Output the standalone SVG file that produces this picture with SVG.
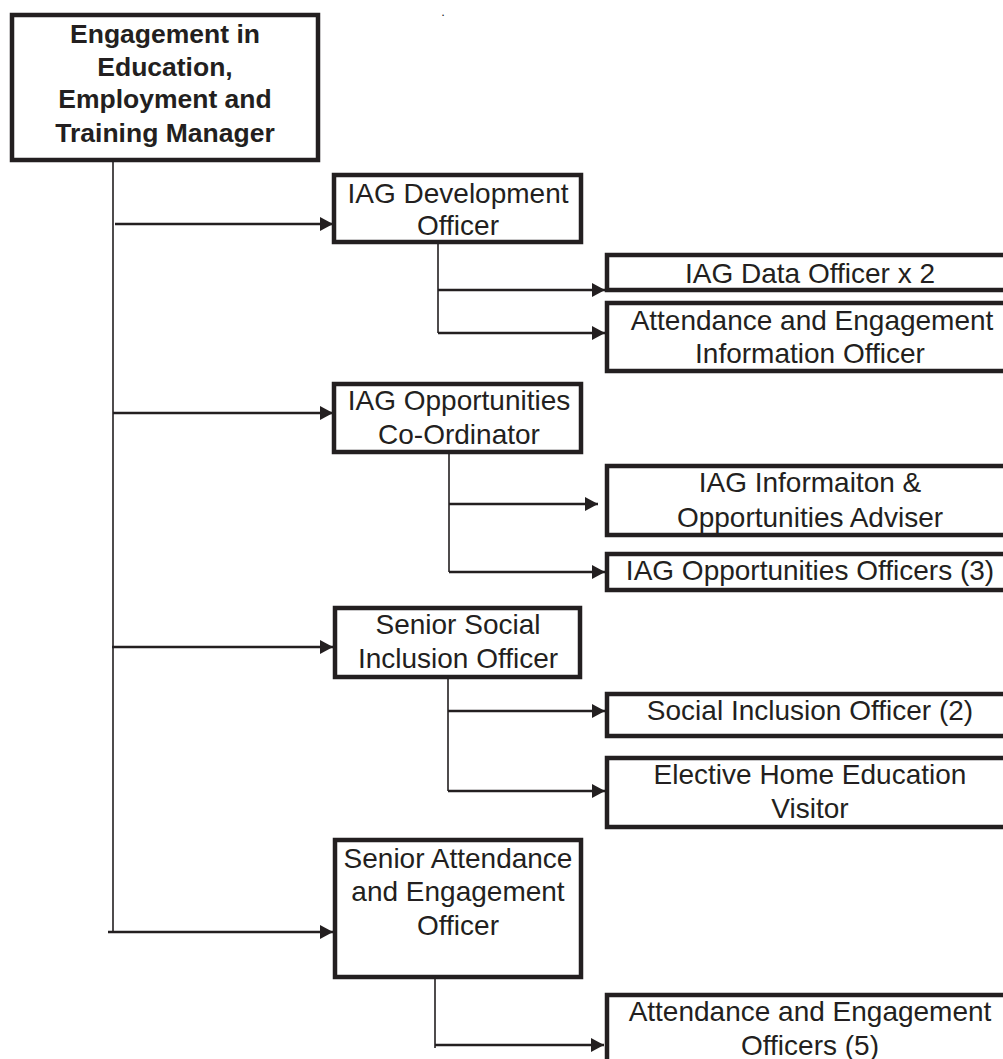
<svg xmlns="http://www.w3.org/2000/svg" width="1003" height="1059" viewBox="0 0 1003 1059">
<style>
.box{fill:#fff;stroke:#231f20;stroke-width:4.5}
.t{font-family:"Liberation Sans",Arial,sans-serif;font-size:28px;fill:#231f20;text-anchor:middle}
.b{font-weight:bold;font-size:26.5px}
.v{stroke:#231f20;stroke-width:1.6;fill:none}
.a{stroke:#231f20;stroke-width:2.4;fill:none;marker-end:url(#ah)}
</style>
<defs>
<marker id="ah" markerUnits="userSpaceOnUse" markerWidth="16" markerHeight="16" refX="13" refY="7" orient="auto">
<path d="M0,0 L13,7 L0,14 Z" fill="#231f20"/>
</marker>
</defs>
<rect width="1003" height="1059" fill="#fff"/>
<text class="t" x="443" y="16" style="font-size:13px">.</text>
<g id="connectors">
<path class="v" d="M113,162 V932"/>
<path class="a" d="M115,224 H333"/>
<path class="a" d="M113,413 H333"/>
<path class="a" d="M112,647 H333"/>
<path class="a" d="M108,932 H333"/>
<path class="v" d="M438,244 V333"/>
<path class="a" d="M438,290 H605"/>
<path class="a" d="M438,333 H605"/>
<path class="v" d="M449,454 V572"/>
<path class="a" d="M449,504 H598"/>
<path class="a" d="M449,572 H605"/>
<path class="v" d="M448,679 V791"/>
<path class="a" d="M448,711 H605"/>
<path class="a" d="M448,791 H605"/>
<path class="v" d="M435,979 V1048"/>
<path class="a" d="M435,1045 H604"/>
</g>
<g id="manager">
<rect class="box" x="12" y="15" width="306" height="145"/>
<text class="t b" x="165" y="43">Engagement in</text>
<text class="t b" x="165" y="76">Education,</text>
<text class="t b" x="165" y="108">Employment and</text>
<text class="t b" x="165" y="142">Training Manager</text>
</g>
<g id="iag-dev">
<rect class="box" x="334" y="175" width="247" height="67"/>
<text class="t" x="458" y="203">IAG Development</text>
<text class="t" x="458" y="235">Officer</text>
</g>
<g id="iag-data">
<rect class="box" x="607" y="255" width="420" height="35"/>
<text class="t" x="810" y="283">IAG Data Officer x 2</text>
</g>
<g id="att-info">
<rect class="box" x="607" y="303" width="420" height="68"/>
<text class="t" x="812" y="330">Attendance and Engagement</text>
<text class="t" x="810" y="363">Information Officer</text>
</g>
<g id="iag-opp-coord">
<rect class="box" x="334" y="384" width="247" height="68"/>
<text class="t" x="459" y="410">IAG Opportunities</text>
<text class="t" x="459" y="444">Co-Ordinator</text>
</g>
<g id="iag-info-adviser">
<rect class="box" x="607" y="466" width="420" height="69"/>
<text class="t" x="810" y="492">IAG Informaiton &amp;</text>
<text class="t" x="810" y="527">Opportunities Adviser</text>
</g>
<g id="iag-opp-officers">
<rect class="box" x="607" y="554" width="420" height="36"/>
<text class="t" x="810" y="580">IAG Opportunities Officers (3)</text>
</g>
<g id="senior-social">
<rect class="box" x="335" y="608" width="245" height="69"/>
<text class="t" x="458" y="634">Senior Social</text>
<text class="t" x="458" y="668">Inclusion Officer</text>
</g>
<g id="social-inclusion">
<rect class="box" x="607" y="694" width="420" height="42"/>
<text class="t" x="810" y="720">Social Inclusion Officer (2)</text>
</g>
<g id="elective">
<rect class="box" x="607" y="758" width="420" height="69"/>
<text class="t" x="810" y="784">Elective Home Education</text>
<text class="t" x="810" y="818">Visitor</text>
</g>
<g id="senior-attendance">
<rect class="box" x="335" y="840" width="246" height="137"/>
<text class="t" x="458" y="868">Senior Attendance</text>
<text class="t" x="458" y="901">and Engagement</text>
<text class="t" x="458" y="935">Officer</text>
</g>
<g id="att-officers">
<rect class="box" x="607" y="995" width="420" height="100"/>
<text class="t" x="810" y="1021">Attendance and Engagement</text>
<text class="t" x="810" y="1055">Officers (5)</text>
</g>
</svg>
